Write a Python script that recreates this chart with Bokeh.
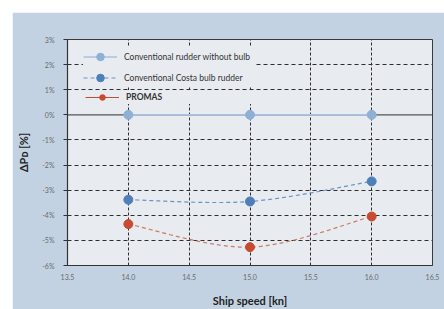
from bokeh.plotting import figure
from bokeh.models import FixedTicker, Span, Legend, LegendItem, Range1d, Spacer
from bokeh.layouts import column, row
from bokeh.embed import file_html
from bokeh.resources import INLINE

# ---- data ----
speed = [14.0, 15.0, 16.0]
no_bulb = [0.0, 0.0, 0.0]
costa = [-3.38, -3.45, -2.65]
promas = [-4.35, -5.27, -4.05]

series_names = ["Conventional rudder without bulb", "Conventional Costa bulb rudder", "PROMAS"]

x_ticks = [13.5, 14.0, 14.5, 15.0, 15.5, 16.0, 16.5]
x_tick_labels = ["13.5", "14.0", "14.5", "15.0", "15.5", "16.0", "16.5"]
y_ticks = [3, 2, 1, 0, -1, -2, -3, -4, -5, -6]
y_tick_labels = ["3%", "2%", "1%", "0%", "-1%", "-2%", "-3%", "-4%", "-5%", "-6%"]


def smooth(xs, ys, n=24):
    """Catmull-Rom style smoothing (like a spreadsheet 'smoothed line')."""
    k = len(xs)
    mx, my = [], []
    for i in range(k):
        i0 = max(i - 1, 0)
        i1 = min(i + 1, k - 1)
        mx.append((xs[i1] - xs[i0]) / 2.0)
        my.append((ys[i1] - ys[i0]) / 2.0)
    ox, oy = [], []
    for i in range(k - 1):
        for j in range(n + (1 if i == k - 2 else 0)):
            t = j / n
            h00 = 2 * t**3 - 3 * t**2 + 1
            h10 = t**3 - 2 * t**2 + t
            h01 = -2 * t**3 + 3 * t**2
            h11 = t**3 - t**2
            ox.append(h00 * xs[i] + h10 * mx[i] + h01 * xs[i + 1] + h11 * mx[i + 1])
            oy.append(h00 * ys[i] + h10 * my[i] + h01 * ys[i + 1] + h11 * my[i + 1])
    return ox, oy


FONT = "Lato"
PLOT_BG = "#e8ebf0"

p = figure(width=432, height=297,
           x_range=Range1d(13.5, 16.5), y_range=Range1d(-6, 3),
           output_backend="svg", toolbar_location=None,
           min_border_left=55, min_border_right=12,
           min_border_top=27, min_border_bottom=42)

p.background_fill_color = PLOT_BG
p.border_fill_color = "#c3d2e2"
p.outline_line_color = "#3a3a3a"
p.outline_line_width = 1

# grids
p.xgrid.ticker = FixedTicker(ticks=[14.0, 14.5, 15.0, 15.5, 16.0])
p.xgrid.grid_line_color = "#2f2f2f"
p.xgrid.grid_line_dash = "3 2"
p.xgrid.grid_line_width = 1
p.ygrid.ticker = FixedTicker(ticks=[-5, -4, -3, -2, -1, 1, 2])
p.ygrid.grid_line_color = "#2f2f2f"
p.ygrid.grid_line_dash = "4 3"
p.ygrid.grid_line_width = 1

zero = Span(location=0, dimension="width", line_color="#555555", line_width=1.3, level="underlay")
p.add_layout(zero)

# axes
xa = p.xaxis[0]
xa.ticker = FixedTicker(ticks=x_ticks)
xa.major_label_overrides = {t: l for t, l in zip(x_ticks, x_tick_labels)}
xa.axis_label = "Ship speed [kn]"
xa.axis_label_text_font = FONT
xa.axis_label_text_font_style = "bold"
xa.axis_label_text_font_size = "11px"
xa.axis_label_text_color = "#222222"
xa.axis_label_standoff = 11
xa.major_label_text_font = FONT
xa.major_label_text_font_size = "7px"
xa.major_label_text_color = "#6b6b6b"
xa.major_label_standoff = 8
xa.major_tick_out = 0
xa.major_tick_in = 0
xa.minor_tick_out = 0
xa.minor_tick_in = 0
xa.axis_line_color = "#333333"
xa.axis_line_width = 1.2

ya = p.yaxis[0]
ya.ticker = FixedTicker(ticks=y_ticks)
ya.major_label_overrides = {t: l for t, l in zip(y_ticks, y_tick_labels)}
ya.axis_label = "ΔPᴅ [%]"
ya.axis_label_text_font = FONT
ya.axis_label_text_font_style = "bold"
ya.axis_label_text_font_size = "11px"
ya.axis_label_text_color = "#222222"
ya.axis_label_standoff = 9
ya.major_label_text_font = FONT
ya.major_label_text_font_size = "7px"
ya.major_label_text_color = "#6b6b6b"
ya.major_label_standoff = 9
ya.major_tick_out = 4
ya.major_tick_in = 0
ya.major_tick_line_color = "#333333"
ya.minor_tick_out = 0
ya.minor_tick_in = 0
ya.axis_line_color = "#333333"
ya.axis_line_width = 1.2

# series
l1 = p.line(speed, no_bulb, line_color="#a9c3df", line_width=1.6)
s1 = p.scatter(speed, no_bulb, size=9, fill_color="#8fb0d5", line_color="#8fb0d5")

cx, cy = smooth(speed, costa)
l2 = p.line(cx, cy, line_color="#6a93c3", line_width=1.2, line_dash="4 3")
s2 = p.scatter(speed, costa, size=9, fill_color="#4f7fb9", line_color="#4f7fb9")

px_, py_ = smooth(speed, promas)
l3 = p.line(px_, py_, line_color="#cf7866", line_width=1.2, line_dash="4 3")
s3 = p.scatter(speed, promas, size=9, fill_color="#c84b31", line_color="#c84b31")

# legend-only swatch: PROMAS shows a solid line in the legend (draws nothing in the plot)
l3_key = p.line(speed[:1], [float("nan")], line_color="#c84b31", line_width=1.2)

# legends (second one bold)
leg2 = Legend(items=[LegendItem(label=series_names[2], renderers=[l3_key, s3])],
              location=(18, 161), orientation="vertical",
              glyph_width=34, glyph_height=14, label_standoff=7, label_width=125,
              padding=3, margin=0, spacing=0,
              background_fill_color=PLOT_BG, background_fill_alpha=1.0,
              border_line_color=None,
              label_text_font=FONT, label_text_font_size="8.5px",
              label_text_font_style="bold", label_text_color="#333333")
leg1 = Legend(items=[LegendItem(label=series_names[0], renderers=[l1, s1]),
                     LegendItem(label=series_names[1], renderers=[l2, s2])],
              location=(16, 178), orientation="vertical",
              glyph_width=34, glyph_height=19, label_standoff=7, label_width=130,
              padding=5, margin=0, spacing=2,
              background_fill_color=PLOT_BG, background_fill_alpha=1.0,
              border_line_color=None,
              label_text_font=FONT, label_text_font_size="8.5px",
              label_text_color="#333333")
p.add_layout(leg2)
p.add_layout(leg1)

layout = column(Spacer(width=444, height=12), row(Spacer(width=12, height=297), p))

open("out.html", "w").write(file_html(layout, INLINE))
